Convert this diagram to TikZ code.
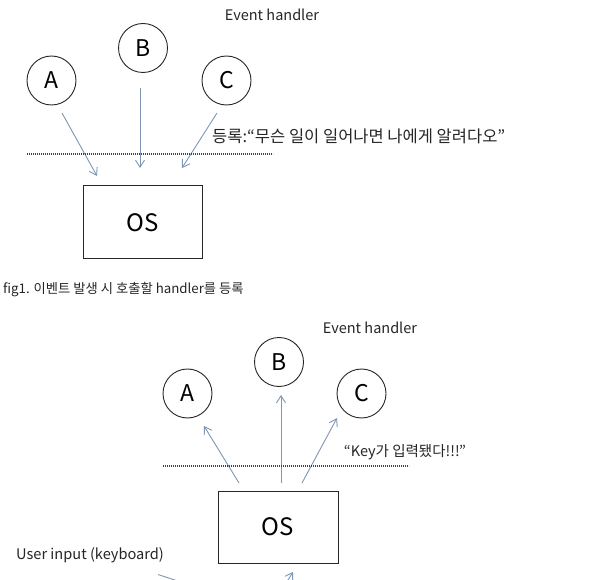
\documentclass[tikz,border=0pt]{standalone}
\usepackage{fontspec}
\setmainfont{Noto Sans CJK KR}
\usetikzlibrary{arrows.meta}
\definecolor{arrowc}{HTML}{7F97B4}
\definecolor{dotc}{HTML}{404040}
\tikzset{
  handler/.style={circle, draw=black!85, line width=0.9pt, minimum size=49pt, inner sep=0pt, font=\fontsize{23}{25}\selectfont},
  osbox/.style={rectangle, draw=black!85, line width=1pt, inner sep=0pt, font=\fontsize{24}{26}\selectfont},
  flow/.style={draw=arrowc, line width=0.9pt, -{Straight Barb[length=7pt,width=9pt]}},
  sep/.style={draw=dotc, line width=1.4pt, dash pattern=on 1.2pt off 0.8pt},
  lbl/.style={inner sep=0pt, text=black!85, font=\fontsize{14.5}{16}\selectfont},
}
\begin{document}
\begin{tikzpicture}[x=1pt,y=-1pt]
\useasboundingbox[fill=white] (0,0) rectangle (600,580);
\clip (0,0) rectangle (600,580);
% ---------- figure 1 ----------
\node[lbl] (eh1) at (272,15) {Event handler};
\node[handler] (a1) at (51.5,80.5) {A};
\node[handler] (b1) at (143,48) {B};
\node[handler] (c1) at (226.5,80.5) {C};
\node[osbox, minimum width=119pt, minimum height=73pt] (os1) at (142.5,222.5) {OS};
\coordinate (a1s) at (62,113); \coordinate (a1e) at (97,176);
\coordinate (b1s) at (140,88);  \coordinate (b1e) at (140,168);
\coordinate (c1s) at (217,113); \coordinate (c1e) at (182,168);
\draw[flow] (a1s) -- (a1e);
\draw[flow] (b1s) -- (b1e);
\draw[flow] (c1s) -- (c1e);
\coordinate (d1l) at (27,154); \coordinate (d1r) at (273,154);
\draw[sep] (d1l) -- (d1r);
\node[lbl, anchor=west, font=\fontsize{16.5}{18}\selectfont] (reg) at (212,136) {등록:“무슨 일이 일어나면 나에게 알려다오”};
\node[lbl, anchor=west, font=\fontsize{13.3}{15}\selectfont] (cap1) at (3,290) {fig1. 이벤트 발생 시 호출할 handler를 등록};
% ---------- figure 2 ----------
\node[lbl] (eh2) at (370,328) {Event handler};
\node[handler] (a2) at (187.5,393.5) {A};
\node[handler] (b2) at (279,362) {B};
\node[handler] (c2) at (361.5,393.5) {C};
\node[osbox, minimum width=120pt, minimum height=72pt] (os2) at (278,527) {OS};
\coordinate (a2s) at (239,483); \coordinate (a2e) at (204,426);
\coordinate (b2s) at (281,483); \coordinate (b2e) at (281,395);
\coordinate (c2s) at (302,483); \coordinate (c2e) at (337,418);
\draw[flow] (a2s) -- (a2e);
\draw[flow] (b2s) -- (b2e);
\draw[flow] (c2s) -- (c2e);
\coordinate (d2l) at (163,466); \coordinate (d2r) at (409,466);
\draw[sep] (d2l) -- (d2r);
\node[lbl, font=\fontsize{14.5}{16}\selectfont] (key) at (405,452) {“Key가 입력됐다!!!”};
\node[lbl, font=\fontsize{14.6}{16}\selectfont] (ui) at (90,555) {User input (keyboard)};
\coordinate (u1s) at (158,574.5); \coordinate (u1e) at (190,585);
\draw[draw=arrowc, line width=0.9pt] (u1s) -- (u1e);
\coordinate (u2s) at (278,596); \coordinate (u2e) at (293,572);
\draw[flow] (u2s) -- (u2e);
\end{tikzpicture}
\end{document}
